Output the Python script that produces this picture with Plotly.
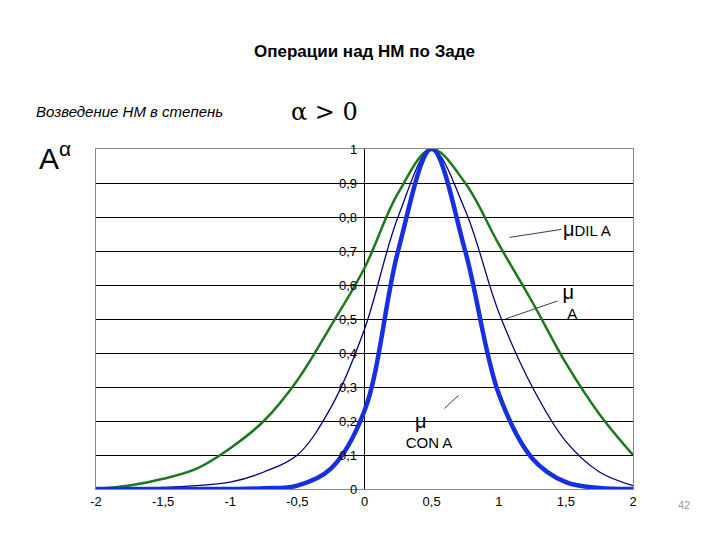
import plotly.graph_objects as go

x = [-2, -1.75, -1.5, -1.25, -1, -0.75, -0.5, -0.25, 0, 0.25, 0.5, 0.75, 1, 1.25, 1.5, 1.75, 2]
mu_dil = [0, 0.01, 0.03, 0.06, 0.12, 0.2, 0.32, 0.48, 0.65, 0.87, 1, 0.9, 0.72, 0.55, 0.37, 0.22, 0.1]
mu_a = [0, 0, 0.005, 0.01, 0.02, 0.05, 0.1, 0.24, 0.47, 0.8, 1, 0.82, 0.52, 0.3, 0.14, 0.05, 0.01]
mu_con = [0, 0, 0, 0, 0, 0.002, 0.01, 0.06, 0.23, 0.7, 1, 0.7, 0.28, 0.09, 0.02, 0.003, 0]
x_ticks = [-2, -1.5, -1, -0.5, 0, 0.5, 1, 1.5, 2]
x_labels = ["-2", "-1,5", "-1", "-0,5", "0", "0,5", "1", "1,5", "2"]
y_vals = [0, 0.1, 0.2, 0.3, 0.4, 0.5, 0.6, 0.7, 0.8, 0.9, 1]
y_labels = ["0", "0,1", "0,2", "0,3", "0,4", "0,5", "0,6", "0,7", "0,8", "0,9", "1"]

fig = go.Figure()
fig.add_trace(go.Scatter(x=x, y=mu_dil, mode="lines", line=dict(color="#1a7a1a", width=2.5, shape="spline")))
fig.add_trace(go.Scatter(x=x, y=mu_a, mode="lines", line=dict(color="#000080", width=1.3, shape="spline")))
fig.add_trace(go.Scatter(x=x, y=mu_con, mode="lines", line=dict(color="#1530e0", width=4.5, shape="spline")))

for v, t in zip(y_vals, y_labels):
    fig.add_annotation(x=-0.04, y=v, text=t, showarrow=False, xanchor="right",
                       font=dict(size=13, color="black"))

# curve labels with leader lines
fig.add_annotation(x=1.08, y=0.74, text="<span style='font-size:20px'>μ</span>DIL A", showarrow=True,
                   ax=52, ay=-8, arrowhead=0, arrowwidth=1, font=dict(size=15), xanchor="left")
fig.add_annotation(x=1.05, y=0.5, text="<span style='font-size:20px'>μ</span><br>  A", showarrow=True,
                   ax=52, ay=-18, arrowhead=0, arrowwidth=1, font=dict(size=15), xanchor="left")
fig.add_annotation(x=0.7, y=0.275, text="<span style='font-size:20px'>μ</span><br>    CON A", showarrow=True,
                   ax=-38, ay=35, arrowhead=0, arrowwidth=1, font=dict(size=15), xanchor="center")

fig.update_layout(
    width=720, height=540, showlegend=False,
    paper_bgcolor="white", plot_bgcolor="white",
    margin=dict(l=88, r=95, t=141, b=59),
    font=dict(family="Liberation Sans", color="black"),
    xaxis=dict(range=[-2, 2], tickvals=x_ticks, ticktext=x_labels, showgrid=False,
               zeroline=True, zerolinecolor="black", zerolinewidth=1,
               showline=True, linecolor="#888", mirror=True, tickfont=dict(size=13)),
    yaxis=dict(range=[0, 1], tickvals=y_vals, showticklabels=False, showgrid=True,
               gridcolor="black", gridwidth=1, zeroline=False,
               showline=True, linecolor="#888", mirror=True),
)
fig.add_annotation(xref="paper", yref="paper", x=-0.11, y=1.04, text="A<sup>α</sup>", showarrow=False,
                   font=dict(size=30, family="Liberation Sans"), xanchor="left", yanchor="top")
fig.add_annotation(xref="paper", yref="paper", x=0.5, y=1.32, text="<b>Операции над НМ по Заде</b>",
                   showarrow=False, font=dict(size=17), xanchor="center")
fig.add_annotation(xref="paper", yref="paper", x=-0.115, y=1.14,
                   text="<i>Возведение НМ в степень</i>", showarrow=False,
                   font=dict(size=15), xanchor="left")
fig.add_annotation(xref="paper", yref="paper", x=0.36, y=1.155, text="α > 0", showarrow=False,
                   font=dict(size=24, family="DejaVu Serif"), xanchor="left")
fig.add_annotation(xref="paper", yref="paper", x=1.08, y=-0.07, text="42", showarrow=False,
                   font=dict(size=11, color="#999"), xanchor="left")
fig.write_html("out.html")
